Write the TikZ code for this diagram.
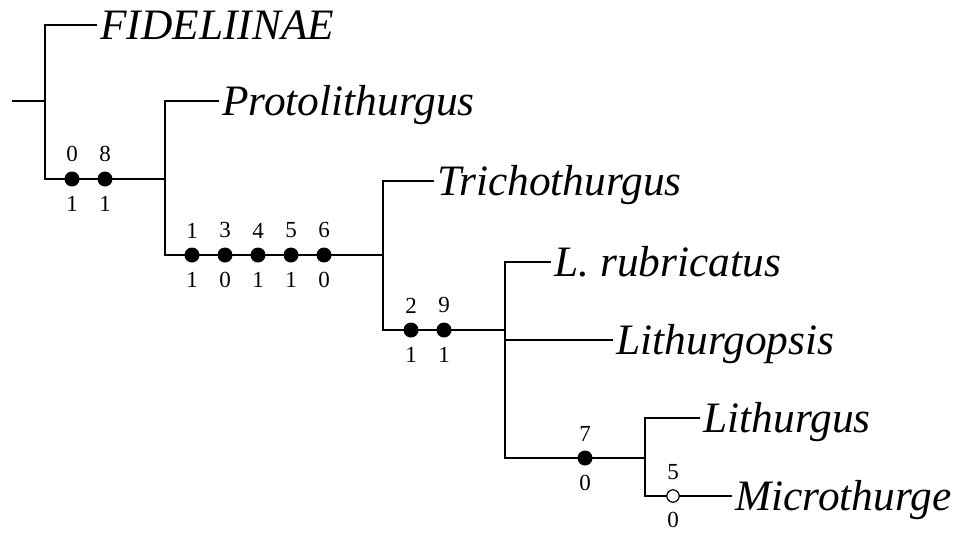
\documentclass[tikz,border=0pt]{standalone}
\usepackage{fontspec}
\setmainfont{Liberation Serif}
\usetikzlibrary{positioning}
\tikzset{
    br/.style    ={draw=black, line width=0.8pt},
    taxon/.style ={anchor=west, inner sep=1.5pt, text height=14.3pt, text depth=0pt,
                   font=\fontsize{21.7}{24}\selectfont\itshape},
    chg/.style   ={circle, fill=black, inner sep=0pt, minimum size=7.5pt},
    rev/.style   ={circle, draw=black, fill=white, line width=0.6pt,
                   inner sep=0pt, minimum size=6.2pt},
    num/.style   ={font=\fontsize{11.5}{13}\selectfont, inner sep=0pt, label distance=4.3pt}
}
\newcommand{\chr}[5][chg]{\node[#1, label={[num]above:#4}, label={[num]below:#5}] (#2) at #3 {};}

\begin{document}
\begin{tikzpicture}[x=0.5pt, y=-0.5pt]
  \useasboundingbox (0,0) rectangle (959,532);

  % junctions
  \coordinate (root) at (12,101);
  \coordinate (j1) at (45,101);
  \coordinate (a1) at (45,179);
  \coordinate (j2) at (165,179);
  \coordinate (a2) at (165,255);
  \coordinate (j3) at (383,255);
  \coordinate (a3) at (383,330);
  \coordinate (j4) at (505,330);
  \coordinate (a4) at (505,458);
  \coordinate (j5) at (645,458);

  % terminal taxa
  \node[taxon] (fid)  at (97,25)   {FIDELIINAE};
  \node[taxon] (pro)  at (219,101) {Protolithurgus};
  \node[taxon] (tri)  at (434,181) {Trichothurgus};
  \node[taxon] (rub)  at (551,262) {L. rubricatus};
  \node[taxon] (lop)  at (613,340) {Lithurgopsis};
  \node[taxon] (lit)  at (700,418) {Lithurgus};
  \node[taxon] (mic)  at (732,496) {Microthurge};

  % branches
  \draw[br] (root) -- (j1);
  \draw[br] (fid.west) -| (a1) -- (j2);
  \draw[br] (pro.west) -| (a2) -- (j3);
  \draw[br] (tri.west) -| (a3) -- (j4);
  \draw[br] (rub.west) -| (a4) -- (j5);
  \draw[br] (lop.west) -- (lop.west -| j4);
  \draw[br] (lit.west) -| (j5) |- (mic.west);

  % character changes
  \chr{c0}{(72,179)}{0}{1}
  \chr{c8}{(105,179)}{8}{1}
  \chr{c1}{(192,255)}{1}{1}
  \chr{c3}{(225,255)}{3}{0}
  \chr{c4}{(258,255)}{4}{1}
  \chr{c5}{(291,255)}{5}{1}
  \chr{c6}{(324,255)}{6}{0}
  \chr{c2}{(411,330)}{2}{1}
  \chr{c9}{(444,330)}{9}{1}
  \chr{c7}{(585,458)}{7}{0}
  \chr[rev]{r5}{(673,496)}{5}{0}
\end{tikzpicture}
\end{document}
